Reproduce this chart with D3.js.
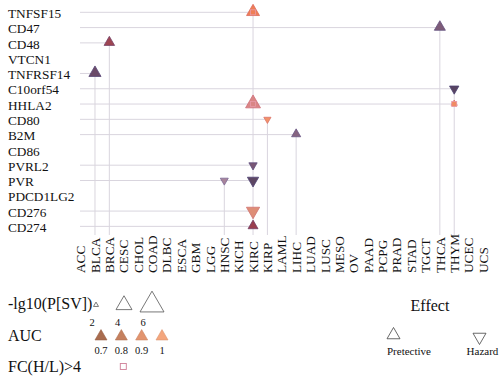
<!DOCTYPE html>
<html><head><meta charset="utf-8">
<script src="https://cdn.jsdelivr.net/npm/d3@7/dist/d3.min.js"></script>
<style>
body{margin:0;background:#fff;}
text{font-family:"Liberation Serif","Times New Roman",serif;fill:#111;}
</style></head>
<body><svg id="c" width="501" height="380"></svg>
<script>
// ---- data ----
const genes = ["TNFSF15","CD47","CD48","VTCN1","TNFRSF14","C10orf54","HHLA2","CD80","B2M","CD86","PVRL2","PVR","PDCD1LG2","CD276","CD274"];
const cancers = ["ACC","BLCA","BRCA","CESC","CHOL","COAD","DLBC","ESCA","GBM","LGG","HNSC","KICH","KIRC","KIRP","LAML","LIHC","LUAD","LUSC","MESO","OV","PAAD","PCPG","PRAD","STAD","TGCT","THCA","THYM","UCEC","UCS"];
// each point: gene, cancer, -lg10(P[SV]), AUC, effect, FC(H/L)>4
const pGene   = ["TNFSF15","CD47","CD48","TNFRSF14","C10orf54","HHLA2","HHLA2","CD80","B2M","PVRL2","PVR","PVR","CD276","CD274"];
const pCancer = ["KIRC","THCA","BRCA","BLCA","THYM","KIRC","THYM","KIRP","LIHC","KIRC","HNSC","KIRC","KIRC","KIRC"];
const pLogP   = [3.45,3.1,3.0,3.3,2.8,3.8,2.2,2.4,2.75,2.6,2.55,3.15,3.5,2.9];
const pAUC    = [0.97,0.62,0.685,0.6,0.56,0.95,0.98,0.985,0.63,0.615,0.66,0.57,0.92,0.68];
const pEffect = ["Protective","Protective","Protective","Protective","Hazard","Protective","Protective","Hazard","Protective","Hazard","Hazard","Hazard","Hazard","Protective"];
const pFC     = [true,false,false,false,false,true,true,false,false,false,false,false,false,false];
const sizeTicks = [2,4,6];
const aucTicks = [0.7,0.8,0.9,1];

const points = pGene.map((g,i)=>({gene:g,cancer:pCancer[i],logp:pLogP[i],auc:pAUC[i],effect:pEffect[i],fc:pFC[i]}));

const svg = d3.select("#c");
const x = d3.scalePoint().domain(cancers).range([80.6, 80.6+28*14.37]);
const y = d3.scalePoint().domain(genes).range([12.3, 12.3+14*15.29]);
const bottom = 235;
const width = d3.scaleLinear().domain([2,4,6]).range([5,16,24]);
const color = d3.scaleLinear()
  .domain([0.55,0.6,0.63,0.66,0.68,0.69,0.7,0.8,0.9,0.95,0.97,1.0])
  .range(["#534360","#6b4a68","#866480","#a8849b","#9a3e4e","#a24c56","#a96c4e","#c5805e","#e2946e","#d98585","#ef7e55","#f4a67d"]);
const strokeCol = d => d.auc < 0.9 ? d3.interpolateRgb(color(d.auc), "#3b3f8a")(0.4)
                                   : d3.interpolateRgb(color(d.auc), "#c0506a")(0.45);
const tri = w => d3.symbol(d3.symbolTriangle, w*w*Math.sqrt(3)/4)();

// grid segments
const gG = svg.append("g").attr("stroke","#d9d5de").attr("stroke-width",1);
const rows = d3.group(points, d=>d.gene);
rows.forEach((arr,g)=>{
  gG.append("line").attr("x1",80).attr("x2",d3.max(arr,d=>x(d.cancer))).attr("y1",y(g)).attr("y2",y(g));
});
const cols = d3.group(points, d=>d.cancer);
cols.forEach((arr,c)=>{
  gG.append("line").attr("x1",x(c)).attr("x2",x(c)).attr("y1",d3.min(arr,d=>y(d.gene))).attr("y2",bottom);
});

// gene labels
svg.append("g").selectAll("text").data(genes).join("text")
  .attr("x",8).attr("y",d=>y(d)+1).attr("dy","0.35em").attr("font-size",13.3).text(d=>d);
// cancer labels
svg.append("g").selectAll("text").data(cancers).join("text")
  .attr("transform",d=>`translate(${x(d)},273) rotate(-90)`).attr("dy","0.35em").attr("font-size",13.3).text(d=>d);

// points
const pg = svg.append("g");
pg.selectAll("path").data(points).join("path")
  .attr("d",d=>tri(width(d.logp)))
  .attr("transform",d=>`translate(${x(d.cancer)},${y(d.gene)+ (d.effect==="Hazard"?0:-0.5)}) rotate(${d.effect==="Hazard"?180:0})`)
  .attr("fill",d=>color(d.auc)).attr("stroke",strokeCol).attr("stroke-width",0.8);
pg.selectAll("rect").data(points.filter(d=>d.fc)).join("rect")
  .attr("x",d=>x(d.cancer)-2.5).attr("y",d=>y(d.gene)-2.5).attr("width",5).attr("height",5)
  .attr("fill",d=>color(d.auc)).attr("stroke","#e69aa8").attr("stroke-width",0.8);

// legend: size
svg.append("text").attr("x",8).attr("y",303).attr("dy","0.35em").attr("font-size",16).text("-lg10(P[SV])");
const sizeX = d3.scalePoint().domain(sizeTicks).range([96,152]);
svg.append("g").selectAll("path").data(sizeTicks).join("path")
  .attr("d",d=>tri(width(d))).attr("transform",d=>`translate(${sizeX(d)},305)`)
  .attr("fill","#fff").attr("stroke","#555").attr("stroke-width",0.8);
const sizeLabX = d3.scalePoint().domain(sizeTicks).range([92,143]);
svg.append("g").selectAll("text").data(sizeTicks).join("text")
  .attr("x",d=>sizeLabX(d)).attr("y",322).attr("dy","0.35em").attr("text-anchor","middle").attr("font-size",10.5).text(d=>d);

// legend: AUC
svg.append("text").attr("x",8).attr("y",335).attr("dy","0.35em").attr("font-size",16).text("AUC");
const aucX = d3.scalePoint().domain(aucTicks).range([101,162]);
svg.append("g").selectAll("path").data(aucTicks).join("path")
  .attr("d",tri(12)).attr("transform",d=>`translate(${aucX(d)},336.5)`)
  .attr("fill",d=>color(d)).attr("stroke",d=>d3.color(color(d)).darker(0.3)).attr("stroke-width",0.6);
svg.append("g").selectAll("text").data(aucTicks).join("text")
  .attr("x",d=>aucX(d)).attr("y",350).attr("dy","0.35em").attr("text-anchor","middle").attr("font-size",10.5).text(d=>d);

// legend: FC
svg.append("text").attr("x",8).attr("y",366).attr("dy","0.35em").attr("font-size",16).text("FC(H/L)>4");
svg.append("rect").attr("x",120.3).attr("y",363.5).attr("width",6).attr("height",6)
  .attr("fill","#fff").attr("stroke","#d07f98").attr("stroke-width",0.9);

// legend: Effect
svg.append("text").attr("x",430).attr("y",305).attr("dy","0.35em").attr("text-anchor","middle").attr("font-size",16).text("Effect");
const effects = ["Pretective","Hazard"];
const effX = d3.scaleOrdinal().domain(effects).range([393.5,479.5]);
svg.append("g").selectAll("path").data(effects).join("path")
  .attr("d",tri(13)).attr("transform",(d,i)=>`translate(${effX(d)},${i?337:335}) rotate(${i?180:0})`)
  .attr("fill","#fff").attr("stroke","#444").attr("stroke-width",0.8);
svg.append("g").selectAll("text").data(effects).join("text")
  .attr("x",(d,i)=>i?482.5:387).attr("y",351).attr("dy","0.35em").attr("text-anchor",(d,i)=>i?"middle":"start").attr("font-size",11).text(d=>d);
</script></body></html>
